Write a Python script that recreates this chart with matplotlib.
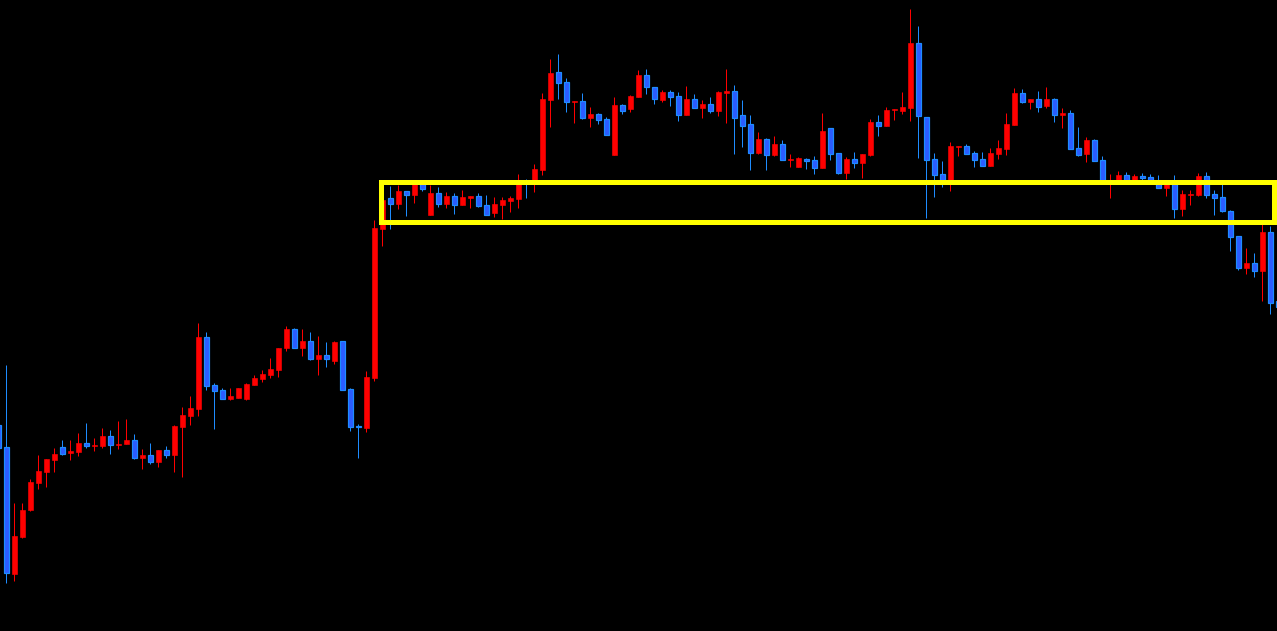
import numpy as np
import matplotlib
matplotlib.use('Agg')
import matplotlib.pyplot as plt
from matplotlib.patches import Rectangle

# OHLC, oldest first (first candle is cut off at the left edge)
opens = [206, 184, 57, 94, 121, 148, 159, 171, 184, 178, 179, 188, 185, 185, 195, 186, 187, 191, 173, 176,
         169, 181, 176, 204, 215, 222, 294, 246, 241, 232, 233, 232, 246, 252, 256, 261, 283, 302, 283, 290,
         272, 276, 270, 290, 242, 205, 203, 253, 402, 433, 427, 440, 436, 449, 416, 438, 427, 435, 426, 433,
         435, 426, 418, 426, 430, 432, 449, 449, 461, 531, 559, 549, 529, 530, 513, 517, 512, 476, 526, 522,
         534, 556, 544, 531, 539, 535, 516, 532, 523, 527, 520, 538, 540, 516, 507, 478, 492, 476, 487, 471,
         464, 472, 471, 463, 503, 478, 458, 472, 468, 476, 509, 505, 521, 520, 523, 588, 514, 472, 457, 450,
         484, 485, 478, 472, 465, 477, 482, 506, 538, 529, 532, 525, 532, 516, 518, 483, 477, 491, 471, 449,
         450, 456, 450, 455, 454, 450, 443, 450, 422, 436, 436, 455, 437, 434, 420, 395, 363, 368, 360, 399,
         330]
highs = [211, 266, 128, 128, 152, 176, 172, 183, 191, 191, 198, 208, 193, 203, 201, 210, 212, 197, 182, 188,
         181, 185, 206, 224, 235, 308, 299, 248, 243, 243, 243, 248, 256, 261, 273, 283, 305, 303, 302, 299,
         295, 289, 290, 290, 243, 207, 260, 411, 433, 445, 446, 440, 451, 450, 446, 444, 439, 438, 441, 435,
         438, 436, 434, 434, 435, 457, 452, 467, 538, 572, 577, 553, 530, 538, 524, 518, 514, 534, 527, 536,
         561, 562, 544, 541, 541, 539, 545, 537, 531, 534, 540, 562, 546, 531, 516, 499, 493, 495, 491, 477,
         474, 473, 475, 518, 503, 478, 474, 479, 477, 512, 516, 524, 522, 539, 622, 605, 514, 478, 470, 489,
         485, 487, 480, 479, 483, 491, 518, 543, 542, 532, 540, 544, 533, 523, 521, 504, 494, 492, 475, 457,
         460, 459, 457, 458, 457, 456, 451, 456, 441, 441, 458, 459, 441, 449, 421, 395, 383, 378, 408, 405,
         331]
lows = [181, 48, 50, 93, 120, 142, 144, 159, 176, 171, 175, 183, 180, 183, 177, 182, 187, 172, 162, 167,
        164, 173, 159, 154, 206, 215, 241, 202, 232, 231, 233, 231, 246, 249, 253, 254, 280, 283, 275, 271,
        256, 264, 267, 241, 200, 173, 199, 250, 385, 402, 422, 415, 428, 440, 416, 424, 423, 417, 426, 423,
        424, 416, 414, 412, 419, 423, 433, 439, 456, 504, 532, 519, 508, 512, 504, 507, 496, 476, 517, 519,
        534, 537, 527, 529, 525, 510, 516, 523, 513, 518, 515, 508, 477, 484, 461, 477, 461, 475, 471, 464,
        464, 462, 457, 463, 471, 457, 452, 463, 453, 475, 495, 505, 511, 517, 510, 473, 413, 434, 444, 440,
        475, 477, 464, 465, 465, 472, 476, 506, 528, 522, 519, 523, 509, 503, 482, 475, 469, 470, 448, 433,
        449, 449, 449, 450, 449, 443, 435, 413, 415, 426, 435, 433, 416, 419, 380, 361, 357, 354, 330, 317,
        324]
closes = [183, 58, 95, 121, 149, 160, 172, 177, 177, 180, 188, 185, 186, 195, 186, 187, 191, 173, 176, 169,
          181, 176, 205, 216, 223, 294, 245, 240, 232, 235, 243, 247, 253, 257, 262, 283, 302, 283, 290, 272,
          276, 272, 289, 241, 204, 204, 254, 403, 431, 427, 440, 436, 449, 442, 438, 427, 435, 426, 434, 435,
          425, 416, 427, 431, 433, 449, 448, 462, 532, 558, 548, 529, 530, 513, 517, 511, 496, 526, 520, 535,
          556, 544, 532, 539, 534, 516, 532, 523, 527, 520, 539, 540, 513, 505, 478, 492, 476, 487, 471, 472,
          473, 470, 463, 500, 477, 458, 472, 468, 477, 509, 505, 521, 522, 524, 588, 515, 471, 456, 451, 485,
          485, 477, 471, 465, 478, 483, 507, 538, 529, 532, 524, 532, 516, 518, 482, 476, 491, 470, 450, 451,
          456, 450, 455, 453, 450, 443, 450, 422, 437, 437, 455, 436, 433, 420, 394, 363, 368, 360, 399, 328,
          324]

# highlighted range (yellow box)
zone_low = 409.5
zone_high = 449.5
zone_start = 46.9
zone_end = 158.52

UP = '#ff0000'
DOWN_EDGE = '#1e8cff'
DOWN_FILL = '#2b5cff'
BOX = '#ffff00'

fig = plt.figure(figsize=(12.77, 6.31), dpi=100, facecolor='black')
ax = fig.add_axes([0, 0, 1, 1])
ax.set_facecolor('black')

n = len(opens)
x = np.arange(n) - 1  # first candle sits just left of the frame
o = np.array(opens, dtype=float)
h = np.array(highs, dtype=float)
l = np.array(lows, dtype=float)
c = np.array(closes, dtype=float)
up = c >= o

px = 0.72  # one pixel in points
ax.vlines(x[up], l[up], h[up], color=UP, linewidth=px, zorder=2)
ax.vlines(x[~up], l[~up], h[~up], color=DOWN_EDGE, linewidth=px, zorder=2)

bottom = np.minimum(o, c)
height = np.maximum(np.abs(c - o), 0.9)
w = 0.6
ax.bar(x[up], height[up], bottom=bottom[up], width=w, color=UP, edgecolor=UP, linewidth=px * 0.6, zorder=3)
ax.bar(x[~up], height[~up], bottom=bottom[~up], width=w, color=DOWN_FILL, edgecolor=DOWN_EDGE,
       linewidth=px * 1.2, zorder=3)

ax.add_patch(Rectangle((zone_start, zone_low), zone_end - zone_start, zone_high - zone_low,
                       fill=False, edgecolor=BOX, linewidth=3.6, joinstyle='miter', zorder=5))

ax.set_xlim(-0.7875, 158.84)
ax.set_ylim(0, 631)
ax.axis('off')

fig.savefig('out.png', dpi=100, facecolor='black')
